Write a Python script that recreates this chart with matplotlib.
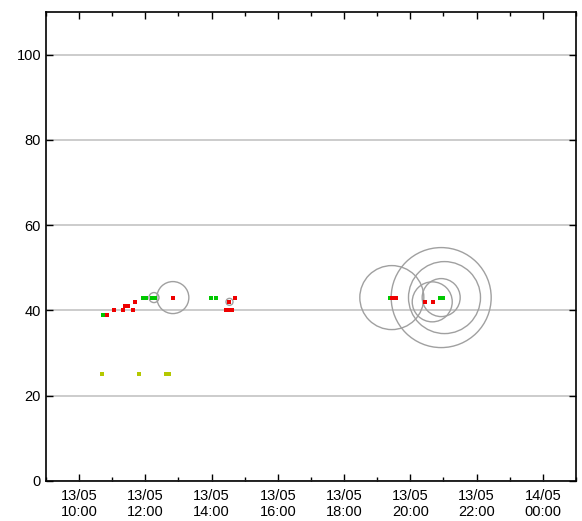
import datetime as dt
import matplotlib
matplotlib.use("Agg")
import matplotlib.pyplot as plt
import matplotlib.dates as mdates

plt.rcParams['font.family'] = ['Liberation Sans', 'DejaVu Sans']

day0 = dt.datetime(2013, 5, 13)

# hours since midnight 13/05, values
green_t = [10.71, 11.31, 11.93, 12.02, 12.20, 12.28, 13.97, 14.14, 19.40, 20.88, 21.00]
green_v = [39, 40, 43, 43, 43, 43, 43, 43, 43, 43, 43]
red_t = [10.85, 11.05, 11.31, 11.40, 11.48, 11.62, 11.69, 12.83, 14.43, 14.50, 14.54, 14.61, 14.72, 19.44, 19.58, 20.45, 20.68]
red_v = [39, 40, 40, 41, 41, 40, 42, 43, 40, 40, 42, 40, 43, 43, 43, 42, 42]
yellow_t = [10.68, 11.82, 12.63, 12.72]
yellow_v = [25, 25, 25, 25]

# open circles: time, value, radius in pixels
circ_t = [12.26, 12.83, 14.54, 19.44, 20.93, 21.03, 20.93, 20.66]
circ_v = [43, 43, 42, 43, 43, 43, 43, 42]
circ_r = [5, 16, 3.5, 32, 50, 36, 19, 20]


def to_dates(hours):
    return [day0 + dt.timedelta(hours=h) for h in hours]


fig = plt.figure(figsize=(5.82, 5.21), dpi=100)
ax = fig.add_axes([0.079, 0.077, 0.9107, 0.900])

# circle size in points^2 from pixel radius
sizes = [(2 * r * 0.72) ** 2 for r in circ_r]
ax.scatter(to_dates(circ_t), circ_v, s=sizes, facecolors='none',
           edgecolors='#a0a0a0', linewidths=1.0, zorder=3)

ax.scatter(to_dates(yellow_t), yellow_v, marker='s', s=12, c='#b4c800', linewidths=0, zorder=4)
ax.scatter(to_dates(green_t), green_v, marker='s', s=12, c='#00c800', linewidths=0, zorder=4)
ax.scatter(to_dates(red_t), red_v, marker='s', s=12, c='#ee0000', linewidths=0, zorder=5)

ax.set_ylim(0, 110)
ax.set_yticks([0, 20, 40, 60, 80, 100])
ax.set_xlim(day0 + dt.timedelta(hours=9), day0 + dt.timedelta(hours=25))
ax.xaxis.set_major_locator(mdates.HourLocator(byhour=range(0, 24, 2)))
ax.xaxis.set_minor_locator(mdates.HourLocator())
ax.xaxis.set_major_formatter(mdates.DateFormatter('%d/%m\n%H:%M'))

ax.grid(axis='y', color='#c4c4c4', linewidth=1.2)
ax.set_axisbelow(True)
for s in ax.spines.values():
    s.set_linewidth(1.2)
ax.tick_params(which='both', direction='in', top=True, right=True, labelsize=10.5, width=1)
ax.tick_params(which='major', length=5)
ax.tick_params(which='minor', length=3)
ax.tick_params(axis='x', pad=6)

fig.savefig('out.png', dpi=100)
